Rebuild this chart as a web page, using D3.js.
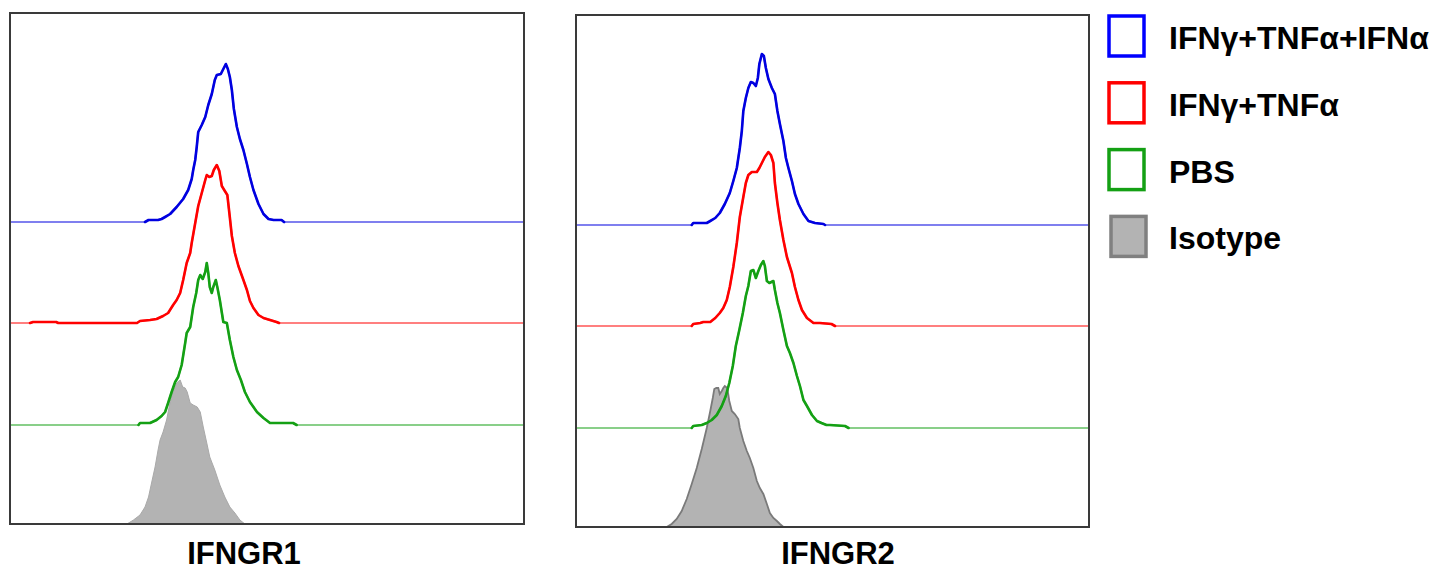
<!DOCTYPE html><html><head><meta charset="UTF-8"><script src="https://d3js.org/d3.v7.min.js"></script><style>
            body { margin: 0; background: #fff; }
            #chart { width: 1433px; height: 571px; font-family: "Liberation Sans", Arial, sans-serif; }
            .frame { fill: none; stroke: #3a3a3a; stroke-width: 2px; }
            .hist { fill: none; stroke-linejoin: round; stroke-linecap: round; }
            .label { font-size: 31px; font-weight: bold; fill: #000; }
            .legend text { font-size: 32px; font-weight: bold; fill: #000; }
        </style></head><body><div id="chart"></div><script>
            // panels (x axis label under each box)
            const panels = ["IFNGR1", "IFNGR2"];
            const seriesNames = ["IFNγ+TNFα+IFNα", "IFNγ+TNFα", "PBS", "Isotype"];
            const seriesColors = ["#0000e0", "#ff0000", "#14a014", "#b3b3b3"];

            // histograms: [channel, count]
            const r1Triple = [[0,0],[269,0],[276,2],[295,2],[302,3],[309,5],[319,8],[332,15],[345,23],[355,32],[362,43],[365,52],[369,62],[372,75],[375,90],[382,97],[389,105],[395,117],[402,128],[408,142],[412,147],[420,148],[425,153],[430,158],[434,153],[438,145],[442,132],[446,113],[452,95],[458,83],[465,72],[472,58],[478,45],[485,32],[495,18],[505,8],[515,3],[525,2],[541,2],[546,0],[1024,0]];
            const r1Dual = [[0,0],[40,0],[46,1],[92,1],[96,0],[253,0],[259,2],[279,3],[292,4],[305,7],[315,10],[325,18],[332,23],[339,30],[345,43],[352,60],[359,70],[362,80],[369,100],[375,117],[382,130],[389,143],[392,148],[397,146],[402,147],[406,153],[412,158],[417,152],[422,137],[428,132],[433,128],[437,110],[442,87],[448,70],[455,57],[465,43],[472,33],[478,22],[485,15],[495,8],[505,5],[518,3],[531,1],[536,0],[1024,0]];
            const r1PBS = [[0,0],[256,0],[259,2],[279,2],[292,5],[302,9],[309,13],[315,22],[322,33],[329,43],[335,48],[342,60],[349,82],[352,92],[359,98],[365,118],[371,132],[375,145],[379,150],[384,146],[389,153],[392,162],[395,152],[398,138],[402,132],[405,138],[410,145],[413,138],[418,125],[425,103],[432,102],[438,85],[445,68],[452,55],[460,45],[468,33],[478,23],[492,13],[505,7],[518,2],[531,2],[564,2],[571,0],[1024,0]];
            const r1Iso = [[0,0],[233,0],[246,4],[259,9],[269,17],[276,27],[282,41],[289,57],[295,74],[299,84],[305,92],[312,104],[319,122],[325,132],[332,141],[339,144],[344,137],[349,136],[353,132],[359,121],[365,119],[373,117],[379,112],[385,97],[392,81],[398,67],[408,54],[418,39],[428,27],[438,17],[448,11],[458,4],[468,0],[1024,0]];

            const r2Triple = [[0,0],[231,0],[234,2],[261,2],[268,4],[278,7],[287,12],[297,21],[307,32],[314,44],[321,57],[327,77],[331,94],[334,114],[339,127],[344,137],[349,143],[354,142],[359,139],[363,147],[366,161],[371,171],[375,169],[379,157],[384,146],[391,137],[397,131],[402,114],[407,101],[414,84],[419,67],[424,57],[431,44],[437,31],[444,21],[454,11],[464,4],[477,2],[494,1],[497,0],[1024,0]];
            const r2Dual = [[0,0],[231,0],[234,2],[248,3],[254,4],[268,4],[278,8],[287,13],[294,18],[301,26],[307,39],[314,59],[321,83],[327,109],[334,129],[339,143],[344,151],[351,154],[361,154],[366,158],[371,163],[377,169],[384,174],[389,171],[394,163],[397,143],[402,123],[407,106],[414,86],[421,69],[431,53],[437,39],[444,26],[451,16],[461,8],[474,3],[487,3],[510,2],[517,0],[1024,0]];
            const r2PBS = [[0,0],[231,0],[234,2],[251,3],[261,5],[271,8],[281,13],[291,22],[299,32],[306,45],[313,62],[319,82],[326,98],[333,115],[339,132],[344,142],[349,157],[354,158],[359,150],[364,157],[369,163],[374,167],[377,162],[381,147],[386,145],[394,147],[397,138],[402,125],[407,115],[414,98],[421,82],[427,75],[434,65],[441,52],[447,42],[454,28],[461,22],[471,13],[481,7],[490,5],[500,3],[507,3],[537,2],[544,0],[1024,0]];
            const r2Iso = [[0,0],[181,0],[191,3],[201,8],[211,16],[221,28],[231,43],[241,59],[251,78],[261,99],[268,116],[273,129],[276,138],[280,139],[284,139],[287,133],[291,136],[294,139],[297,141],[302,139],[306,126],[311,116],[317,113],[324,108],[327,99],[334,86],[341,76],[347,69],[354,59],[361,46],[367,39],[374,33],[381,23],[387,14],[394,9],[401,6],[407,3],[414,0],[1024,0]];

            const panelData = [
                [r1Triple, r1Dual, r1PBS, r1Iso],
                [r2Triple, r2Dual, r2PBS, r2Iso]
            ];

            // layout
            const boxes = [
                {left: 10, right: 524, top: 13, bottom: 524, labelX: 244, isoStroke: "#a9a9a9"},
                {left: 576, right: 1089, top: 15, bottom: 527, labelX: 838, isoStroke: "#7a7a7a"}
            ];
            const offsets = [302, 201, 99, 0]; // vertical stacking of overlays, in count units

            const svg = d3.select('#chart')
                .append('svg')
                .attr('width', 1433)
                .attr('height', 571);

            boxes.forEach((b, p) => {
                const x = d3.scaleLinear().domain([0, 1024]).range([b.left, b.right]);
                const y = d3.scaleLinear().domain([0, b.bottom - b.top]).range([b.bottom, b.top]);
                const g = svg.append('g');

                g.append('clipPath').attr('id', 'clip' + p)
                    .append('rect')
                    .attr('x', b.left).attr('y', b.top)
                    .attr('width', b.right - b.left).attr('height', b.bottom - b.top);

                const plot = g.append('g').attr('clip-path', `url(#clip${p})`);
                const series = panelData[p];

                // isotype: filled
                const area = d3.area()
                    .x(d => x(d[0]))
                    .y0(y(0))
                    .y1(d => y(d[1]));
                plot.append('path')
                    .datum(series[3])
                    .attr('d', area)
                    .attr('fill', seriesColors[3])
                    .attr('stroke', b.isoStroke)
                    .attr('stroke-width', p === 0 ? 1 : 1.8);

                // stained samples: offset outlines (faint flat baseline, bolder where counts > 0)
                [2, 1, 0].forEach(i => {
                    const line = d3.line()
                        .x(d => x(d[0]))
                        .y(d => y(d[1] + offsets[i]));
                    const nonFlat = (d, k, arr) => d[1] > 0 || (arr[k - 1] && arr[k - 1][1] > 0) || (arr[k + 1] && arr[k + 1][1] > 0);
                    plot.append('path')
                        .datum(series[i])
                        .attr('class', 'hist')
                        .attr('d', line)
                        .attr('stroke', seriesColors[i])
                        .attr('stroke-width', 2)
                        .attr('stroke-opacity', 0.5);
                    plot.append('path')
                        .datum(series[i])
                        .attr('class', 'hist')
                        .attr('d', line.defined(nonFlat))
                        .attr('stroke', seriesColors[i])
                        .attr('stroke-width', 2.6);
                });

                g.append('rect')
                    .attr('class', 'frame')
                    .attr('x', b.left).attr('y', b.top)
                    .attr('width', b.right - b.left).attr('height', b.bottom - b.top);

                g.append('text')
                    .attr('class', 'label')
                    .attr('x', b.labelX)
                    .attr('y', 564)
                    .attr('text-anchor', 'middle')
                    .text(panels[p]);
            });

            // legend
            const legend = svg.append('g').attr('class', 'legend');
            const rows = legend.selectAll('g')
                .data(seriesNames)
                .enter().append('g')
                .attr('transform', (d, i) => `translate(0, ${i * 66.8})`);

            rows.append('rect')
                .attr('x', (d, i) => i === 3 ? 1111 : 1109)
                .attr('y', 16)
                .attr('width', 35)
                .attr('height', 40)
                .attr('fill', (d, i) => i === 3 ? seriesColors[3] : '#fff')
                .attr('stroke', (d, i) => i === 3 ? '#808080' : seriesColors[i] === '#0000e0' ? '#0000ff' : seriesColors[i])
                .attr('stroke-width', 3.5);

            rows.append('text')
                .attr('x', 1169)
                .attr('y', 49)
                .text(d => d);
        </script></body></html>
